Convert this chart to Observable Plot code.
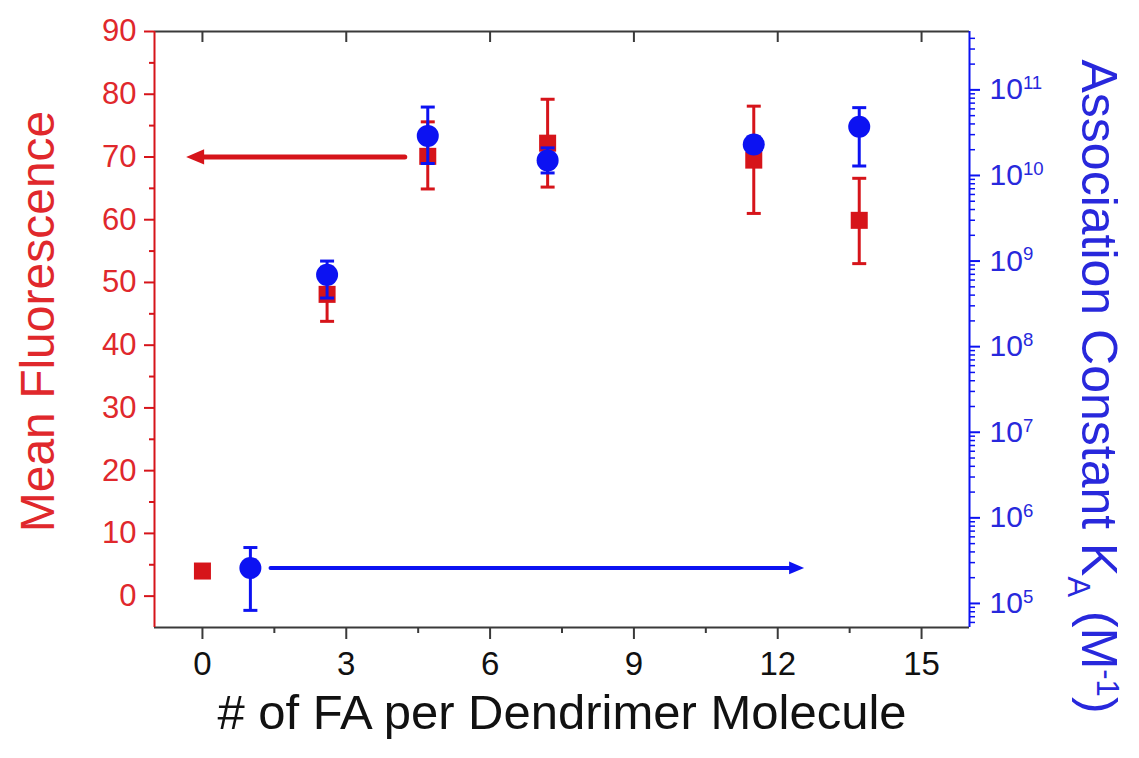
<!DOCTYPE html>
<html><head><meta charset="utf-8">
<script src="https://cdn.jsdelivr.net/npm/d3@7"></script>
<script src="https://cdn.jsdelivr.net/npm/@observablehq/plot@0.6"></script>
<style>
body{margin:0;background:#fff;}
#wrap{position:relative;width:1139px;height:758px;overflow:hidden;}
#wrap svg{position:absolute;left:0;top:0;}
</style></head><body><div id="wrap"></div>
<script>
// ---- data ----
const faCount = [0, 2.6, 4.7, 7.2, 11.5, 13.7];
const fluorMean = [4, 48.1, 70.1, 72.2, 69.5, 59.9];
const fluorLow = [4, 43.8, 64.9, 65.2, 61.0, 53.0];
const fluorHigh = [4, 52.4, 75.6, 79.2, 78.1, 66.6];

const kaCount = [1, 2.6, 4.7, 7.2, 11.5, 13.7];
const kaMean = [2.6e5, 6.9e8, 2.9e10, 1.5e10, 2.3e10, 3.7e10];
const kaLow = [8.3e4, 3.7e8, 1.38e10, 1.07e10, 1.9e10, 1.29e10];
const kaHigh = [4.5e5, 1.0e9, 6.3e10, 2.1e10, 2.8e10, 6.2e10];

const xMajor = [0, 3, 6, 9, 12, 15];
const xMinor = [1.5, 4.5, 7.5, 10.5, 13.5];
const fluorMajor = [0, 10, 20, 30, 40, 50, 60, 70, 80, 90];
const fluorMinor = [5, 15, 25, 35, 45, 55, 65, 75, 85];
const kaMajor = [1e5, 1e6, 1e7, 1e8, 1e9, 1e10, 1e11];

const redArrow = [{x1: 4.22, x2: -0.34, y: 70}];
const blueArrow = [{x1: 1.42, x2: 12.55, y: 2.6e5}];

const xDomain = [-1, 16];
const fluorDomain = [-5, 90];
const kaDomain = [Math.pow(10, 4.719), Math.pow(10, 11.682)];

const xTitle = "# of FA per Dendrimer Molecule";
const leftTitle = "Mean Fluorescence";
const rightTitle = "Association Constant K_A (M^-1)";

// ---- styles ----
const RED = "#d6141a", RED_TEXT = "#e0282c";
const BLUE = "#0c12f2", BLUE_TEXT = "#2828dc";
const FRAME = "#3a3a3a";
const FONT = "'Liberation Sans', Arial, Helvetica, sans-serif";
const W = 1139, H = 758;
const margins = {marginLeft: 154, marginRight: 170, marginTop: 31, marginBottom: 131};

const kaMinor = [];
for (let e = 4; e <= 11; e++) for (let m = 2; m <= 9; m++) {
  const v = m * Math.pow(10, e);
  if (v >= kaDomain[0] && v <= kaDomain[1]) kaMinor.push(v);
}

const capSymbol = {draw(ctx, size) { const r = Math.sqrt(size / Math.PI); ctx.moveTo(-r, 0); ctx.lineTo(r, 0); }};
const headLeft = {draw(ctx, size) { const r = Math.sqrt(size / Math.PI); ctx.moveTo(0, 0); ctx.lineTo(2 * r, -0.85 * r); ctx.lineTo(2 * r, 0.85 * r); ctx.closePath(); }};
const headRight = {draw(ctx, size) { const r = Math.sqrt(size / Math.PI); ctx.moveTo(0, 0); ctx.lineTo(-2 * r, -0.85 * r); ctx.lineTo(-2 * r, 0.85 * r); ctx.closePath(); }};

const fluorRows = faCount.map((x, i) => ({x, y: fluorMean[i], lo: fluorLow[i], hi: fluorHigh[i]}));
const fluorErr = fluorRows.filter(d => d.hi > d.lo);
const kaRows = kaCount.map((x, i) => ({x, y: kaMean[i], lo: kaLow[i], hi: kaHigh[i]}));

const baseStyle = {fontFamily: FONT, background: "transparent", overflow: "visible"};

const p1 = Plot.plot({
  width: W, height: H, ...margins,
  style: baseStyle,
  x: {domain: xDomain},
  y: {domain: fluorDomain},
  marks: [
    Plot.ruleY([fluorDomain[1]], {stroke: FRAME, strokeWidth: 2}),
    Plot.ruleY([fluorDomain[0]], {stroke: FRAME, strokeWidth: 2}),
    Plot.ruleX([xDomain[0]], {stroke: RED, strokeWidth: 2}),
    Plot.axisY({ticks: fluorMinor, anchor: "left", tickSize: 5, tickFormat: () => "", stroke: RED, strokeWidth: 2, label: null}),
    Plot.axisY({ticks: fluorMajor, anchor: "left", tickSize: 10, tickPadding: 8, fontSize: 31, fill: RED_TEXT, stroke: RED, strokeWidth: 2, label: null}),
    Plot.axisX({ticks: xMinor, anchor: "bottom", tickSize: 6, tickFormat: () => "", stroke: FRAME, strokeWidth: 2, label: null}),
    Plot.axisX({ticks: xMajor, anchor: "bottom", tickSize: 12, tickPadding: 12, fontSize: 33, fill: "#111", stroke: FRAME, strokeWidth: 2, label: null}),
    Plot.axisX({ticks: xMajor, anchor: "top", tickSize: -10, tickFormat: () => "", stroke: FRAME, strokeWidth: 2, label: null}),
    Plot.text([xTitle], {text: d => d, frameAnchor: "bottom", textAnchor: "middle", lineAnchor: "middle", dy: 86, fontSize: 49, fill: "#111"}),
    Plot.text([leftTitle], {text: d => d, frameAnchor: "left", textAnchor: "middle", lineAnchor: "middle", rotate: -90, dx: -116, dy: -8, fontSize: 48, fill: RED_TEXT}),
    Plot.arrow(redArrow, {x1: "x1", x2: "x2", y1: "y", y2: "y", stroke: RED, strokeWidth: 5, headLength: 0, insetEnd: 10}),
    Plot.dot(redArrow, {x: "x2", y: "y", symbol: headLeft, r: 9, fill: RED, stroke: null}),
    Plot.ruleX(fluorErr, {x: "x", y1: "lo", y2: "hi", stroke: RED, strokeWidth: 3}),
    Plot.dot(fluorErr, {x: "x", y: "hi", symbol: capSymbol, r: 7, stroke: RED, strokeWidth: 3, fill: null}),
    Plot.dot(fluorErr, {x: "x", y: "lo", symbol: capSymbol, r: 7, stroke: RED, strokeWidth: 3, fill: null}),
    Plot.dot(fluorRows, {x: "x", y: "y", symbol: "square", r: 9.6, fill: RED, stroke: null})
  ]
});

const p2 = Plot.plot({
  width: W, height: H, ...margins,
  style: baseStyle,
  x: {domain: xDomain, axis: null},
  y: {type: "log", domain: kaDomain},
  marks: [
    Plot.ruleX([xDomain[1]], {stroke: BLUE, strokeWidth: 2}),
    Plot.axisY({ticks: kaMinor, anchor: "right", tickSize: 5, tickFormat: () => "", stroke: BLUE, strokeWidth: 1.5, label: null}),
    Plot.axisY({ticks: kaMajor, anchor: "right", tickSize: 10, tickPadding: 10, fontSize: 30, fill: BLUE_TEXT, stroke: BLUE, strokeWidth: 2, label: null,
      tickFormat: d => "10^" + Math.round(Math.log10(d))}),
    Plot.text([rightTitle], {text: d => d, frameAnchor: "right", textAnchor: "middle", lineAnchor: "middle", rotate: 90, dx: 128, dy: 57, fontSize: 50, fill: BLUE_TEXT}),
    Plot.arrow(blueArrow, {x1: "x1", x2: "x2", y1: "y", y2: "y", stroke: BLUE, strokeWidth: 4, headLength: 0, insetEnd: 8}),
    Plot.dot(blueArrow, {x: "x2", y: "y", symbol: headRight, r: 7.5, fill: BLUE, stroke: null}),
    Plot.ruleX(kaRows, {x: "x", y1: "lo", y2: "hi", stroke: BLUE, strokeWidth: 3}),
    Plot.dot(kaRows, {x: "x", y: "hi", symbol: capSymbol, r: 7, stroke: BLUE, strokeWidth: 3, fill: null}),
    Plot.dot(kaRows, {x: "x", y: "lo", symbol: capSymbol, r: 7, stroke: BLUE, strokeWidth: 3, fill: null}),
    Plot.dot(kaRows, {x: "x", y: "y", r: 11, fill: BLUE, stroke: null})
  ]
});

const wrap = document.getElementById("wrap");
wrap.appendChild(p1);
wrap.appendChild(p2);

const NS = "http://www.w3.org/2000/svg";
function tspan(parent, txt, attrs) {
  const t = document.createElementNS(NS, "tspan");
  t.textContent = txt;
  for (const k in attrs) t.setAttribute(k, attrs[k]);
  parent.appendChild(t);
  return t;
}
// superscript exponents on the log axis labels
p2.querySelectorAll('g[aria-label="y-axis tick label"] text').forEach(el => {
  const s = el.textContent;
  if (!s || s.indexOf("^") < 0) return;
  const [base, exp] = s.split("^");
  el.textContent = "";
  tspan(el, base, {});
  tspan(el, exp, {dy: "-0.55em", "font-size": "0.62em"});
});
// subscript / superscript in the right title
p2.querySelectorAll('text').forEach(el => {
  if (el.textContent !== rightTitle) return;
  el.textContent = "";
  tspan(el, "Association Constant K", {});
  tspan(el, "A", {dy: "0.45em", "font-size": "0.62em"});
  tspan(el, " (M", {dy: "-0.28em"});
  tspan(el, "-1", {dy: "-0.5em", "font-size": "0.62em"});
  tspan(el, ")", {dy: "0.31em"});
});
</script></body></html>
